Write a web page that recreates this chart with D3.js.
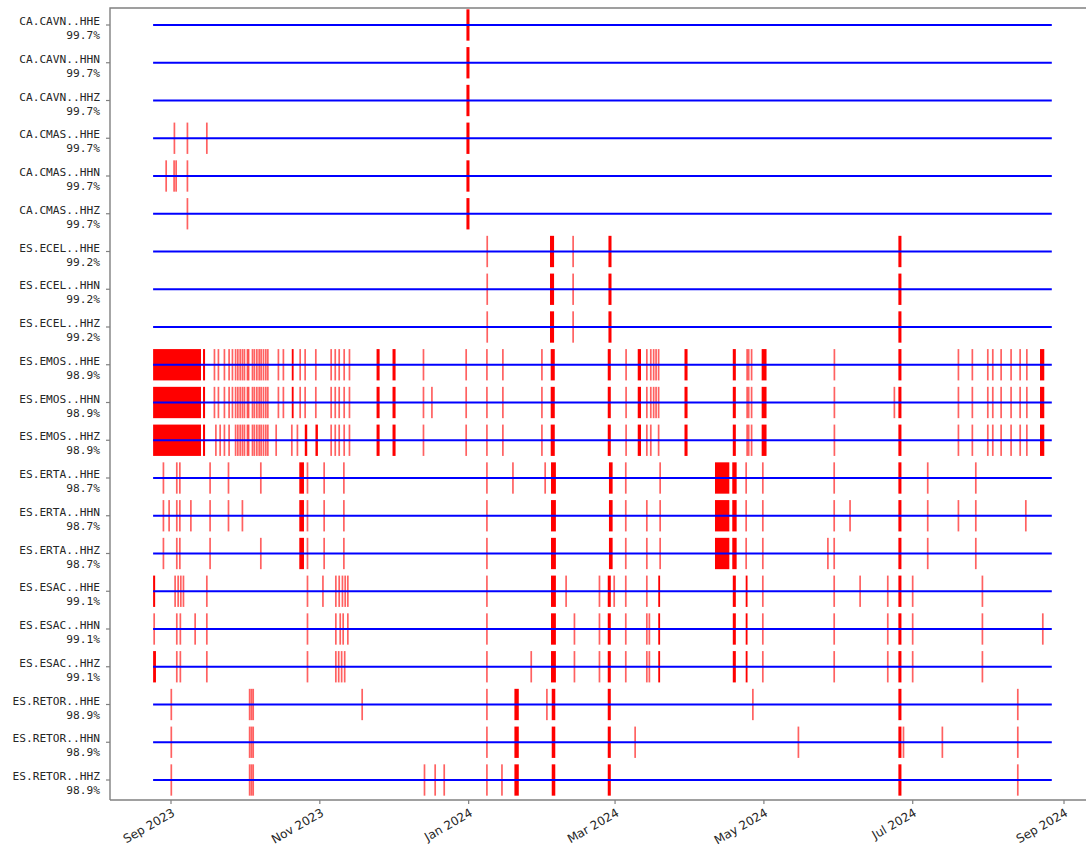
<!DOCTYPE html>
<html>
<head>
<meta charset="utf-8">
<script src="https://cdn.jsdelivr.net/npm/d3@7"></script>
<style>
  body { margin: 0; background: #fff; }
  svg { display: block; }
</style>
</head>
<body>
<svg id="chart" width="1086" height="846"></svg>
<script>
// ---- data -------------------------------------------------------------
const channels = [
  "CA.CAVN..HHE", "CA.CAVN..HHN", "CA.CAVN..HHZ",
  "CA.CMAS..HHE", "CA.CMAS..HHN", "CA.CMAS..HHZ",
  "ES.ECEL..HHE", "ES.ECEL..HHN", "ES.ECEL..HHZ",
  "ES.EMOS..HHE", "ES.EMOS..HHN", "ES.EMOS..HHZ",
  "ES.ERTA..HHE", "ES.ERTA..HHN", "ES.ERTA..HHZ",
  "ES.ESAC..HHE", "ES.ESAC..HHN", "ES.ESAC..HHZ",
  "ES.RETOR..HHE", "ES.RETOR..HHN", "ES.RETOR..HHZ"
];
const availability = [
  "99.7%", "99.7%", "99.7%",
  "99.7%", "99.7%", "99.7%",
  "99.2%", "99.2%", "99.2%",
  "98.9%", "98.9%", "98.9%",
  "98.7%", "98.7%", "98.7%",
  "99.1%", "99.1%", "99.1%",
  "98.9%", "98.9%", "98.9%"
];
const recordStart = "2023-08-24 16:00";
const recordEnd = "2024-08-27 00:00";
const tickDates = ["2023-09-01 00:00", "2023-11-01 00:00", "2024-01-01 00:00", "2024-03-01 00:00",
                   "2024-05-01 00:00", "2024-07-01 00:00", "2024-09-01 00:00"];
const tickLabels = ["Sep 2023", "Nov 2023", "Jan 2024", "Mar 2024", "May 2024", "Jul 2024", "Sep 2024"];

// gaps: [start, duration in hours]
const gapsCAVN = [["2023-12-31 02:00", 30]];

const gapsCMAS_HHE = [["2023-09-02 08:00", 3], ["2023-09-07 16:00", 3], ["2023-09-15 15:00", 3],
  ["2023-12-31 02:00", 30]];
const gapsCMAS_HHN = [["2023-08-29 23:00", 3], ["2023-09-02 05:00", 3], ["2023-09-03 01:00", 3],
  ["2023-09-07 16:00", 3], ["2023-12-31 02:00", 30]];
const gapsCMAS_HHZ = [["2023-09-07 16:00", 3], ["2023-12-31 02:00", 30]];

const gapsECEL = [["2024-01-08 13:00", 3], ["2024-02-03 08:00", 40], ["2024-02-12 18:00", 3],
  ["2024-02-27 07:00", 30], ["2024-06-25 03:00", 30]];

const gapsEMOS_HHE = [
  ["2023-08-24 16:00", 471], ["2023-09-14 03:00", 20],
  ["2023-09-18 18:00", 3], ["2023-09-20 09:00", 3], ["2023-09-22 20:00", 3], ["2023-09-24 18:00", 3],
  ["2023-09-26 03:00", 3], ["2023-09-27 10:00", 3], ["2023-09-28 08:00", 3], ["2023-09-29 07:00", 3],
  ["2023-09-30 05:00", 3], ["2023-10-01 01:00", 3], ["2023-10-02 00:00", 16], ["2023-10-02 18:00", 3],
  ["2023-10-04 08:00", 3], ["2023-10-05 03:00", 3], ["2023-10-06 03:00", 3], ["2023-10-07 02:00", 3],
  ["2023-10-07 21:00", 3], ["2023-10-08 20:00", 3], ["2023-10-09 19:00", 3], ["2023-10-10 15:00", 3],
  ["2023-10-14 23:00", 3], ["2023-10-17 00:00", 3], ["2023-10-20 12:00", 18], ["2023-10-23 21:00", 3],
  ["2023-10-25 22:00", 3], ["2023-10-30 07:00", 3],
  ["2023-11-05 14:00", 3], ["2023-11-07 06:00", 3], ["2023-11-08 21:00", 3], ["2023-11-10 22:00", 3],
  ["2023-11-13 02:00", 3], ["2023-11-24 06:00", 30], ["2023-11-30 19:00", 30],
  ["2023-12-13 10:00", 3], ["2023-12-30 22:00", 3],
  ["2024-01-08 10:00", 3], ["2024-01-14 23:00", 3], ["2024-01-30 23:00", 3], ["2024-02-03 15:00", 40],
  ["2024-02-27 00:00", 30], ["2024-03-05 11:00", 3], ["2024-03-10 07:00", 32], ["2024-03-13 23:00", 3],
  ["2024-03-15 14:00", 3], ["2024-03-16 18:00", 3], ["2024-03-17 18:00", 3], ["2024-03-18 19:00", 3],
  ["2024-03-29 11:00", 30], ["2024-04-18 06:00", 30], ["2024-04-23 21:00", 12], ["2024-04-24 17:00", 3],
  ["2024-04-25 17:00", 12], ["2024-04-30 02:00", 48], ["2024-05-29 20:00", 3], ["2024-06-25 03:00", 30],
  ["2024-07-19 16:00", 3], ["2024-07-25 09:00", 3], ["2024-07-31 17:00", 3], ["2024-08-02 18:00", 3],
  ["2024-08-06 04:00", 3], ["2024-08-10 06:00", 3], ["2024-08-13 23:00", 3], ["2024-08-16 17:00", 3],
  ["2024-08-22 04:00", 42]
];
const gapsEMOS_HHN = gapsEMOS_HHE.concat([["2023-12-16 21:00", 3], ["2024-06-23 10:00", 3]]);
const gapsEMOS_HHZ = [
  ["2023-08-24 16:00", 471], ["2023-09-14 03:00", 20],
  ["2023-09-19 08:00", 3], ["2023-09-21 02:00", 3], ["2023-09-22 20:00", 3], ["2023-09-24 18:00", 3],
  ["2023-09-27 10:00", 3], ["2023-09-28 08:00", 3], ["2023-09-29 07:00", 3], ["2023-09-30 05:00", 3],
  ["2023-10-01 01:00", 3], ["2023-10-02 00:00", 16], ["2023-10-02 18:00", 3],
  ["2023-10-04 08:00", 3], ["2023-10-05 03:00", 3], ["2023-10-06 03:00", 3], ["2023-10-07 02:00", 3],
  ["2023-10-07 21:00", 3], ["2023-10-08 20:00", 3], ["2023-10-09 19:00", 3], ["2023-10-10 15:00", 3],
  ["2023-10-14 01:00", 3], ["2023-10-20 11:00", 3], ["2023-10-22 18:00", 3], ["2023-10-25 20:00", 24],
  ["2023-10-30 05:00", 24],
  ["2023-11-05 14:00", 3], ["2023-11-07 06:00", 3], ["2023-11-08 21:00", 3], ["2023-11-10 22:00", 3],
  ["2023-11-13 02:00", 3], ["2023-11-24 06:00", 30], ["2023-11-30 19:00", 30],
  ["2023-12-13 10:00", 3], ["2023-12-30 22:00", 3],
  ["2024-01-08 10:00", 3], ["2024-01-14 23:00", 3], ["2024-01-30 23:00", 3], ["2024-02-03 15:00", 40],
  ["2024-02-27 00:00", 30], ["2024-03-05 11:00", 3], ["2024-03-10 07:00", 32], ["2024-03-13 23:00", 3],
  ["2024-03-15 14:00", 3], ["2024-03-18 19:00", 3],
  ["2024-03-29 11:00", 30], ["2024-04-18 06:00", 30], ["2024-04-23 21:00", 12], ["2024-04-24 17:00", 3],
  ["2024-04-25 17:00", 12], ["2024-04-30 02:00", 48], ["2024-05-29 20:00", 3], ["2024-06-25 03:00", 30],
  ["2024-07-19 16:00", 3], ["2024-07-25 09:00", 3], ["2024-07-31 17:00", 3], ["2024-08-02 18:00", 3],
  ["2024-08-06 04:00", 3], ["2024-08-10 06:00", 3], ["2024-08-13 20:00", 10], ["2024-08-16 17:00", 3],
  ["2024-08-22 04:00", 42]
];

const gapsERTA_HHE = [
  ["2023-08-28 20:00", 3], ["2023-09-03 04:00", 10], ["2023-09-04 10:00", 10], ["2023-09-16 23:00", 3],
  ["2023-09-24 12:00", 3], ["2023-10-07 18:00", 3], ["2023-10-23 14:00", 46], ["2023-10-26 21:00", 3],
  ["2023-11-02 17:00", 3], ["2023-11-10 19:00", 3],
  ["2024-01-08 10:00", 3], ["2024-01-19 02:00", 3], ["2024-02-01 07:00", 3], ["2024-02-03 18:00", 48],
  ["2024-02-27 12:00", 36], ["2024-03-05 08:00", 3], ["2024-03-19 10:00", 3], ["2024-04-10 23:00", 141],
  ["2024-04-18 01:00", 43], ["2024-04-23 16:00", 3], ["2024-04-30 12:00", 3], ["2024-05-29 18:00", 3],
  ["2024-06-25 03:00", 30], ["2024-07-07 02:00", 3], ["2024-07-26 19:00", 3]
];
const gapsERTA_HHN = [
  ["2023-08-28 20:00", 3], ["2023-08-31 04:00", 3], ["2023-09-03 04:00", 10], ["2023-09-04 10:00", 10],
  ["2023-09-09 02:00", 3], ["2023-09-16 23:00", 3], ["2023-09-24 12:00", 3], ["2023-09-30 05:00", 3],
  ["2023-10-23 14:00", 46], ["2023-10-26 21:00", 3], ["2023-11-02 17:00", 3], ["2023-11-10 19:00", 3],
  ["2024-01-08 10:00", 3], ["2024-02-03 18:00", 48], ["2024-02-27 12:00", 36], ["2024-03-05 08:00", 3],
  ["2024-03-13 23:00", 3], ["2024-03-19 10:00", 3], ["2024-04-10 23:00", 141], ["2024-04-18 01:00", 43],
  ["2024-04-23 16:00", 3], ["2024-04-30 12:00", 3], ["2024-05-29 18:00", 3], ["2024-06-05 06:00", 3],
  ["2024-06-25 03:00", 30], ["2024-07-07 02:00", 3], ["2024-07-19 16:00", 3], ["2024-07-26 19:00", 3],
  ["2024-08-16 07:00", 3]
];
const gapsERTA_HHZ = [
  ["2023-08-28 20:00", 3], ["2023-09-03 04:00", 10], ["2023-09-04 10:00", 10], ["2023-09-16 23:00", 3],
  ["2023-10-07 18:00", 3], ["2023-10-23 14:00", 46], ["2023-10-26 21:00", 3], ["2023-11-02 17:00", 3],
  ["2023-11-10 19:00", 3],
  ["2024-01-08 10:00", 3], ["2024-02-03 18:00", 48], ["2024-02-27 12:00", 36], ["2024-03-05 08:00", 3],
  ["2024-03-13 23:00", 3], ["2024-03-19 10:00", 3], ["2024-04-10 23:00", 141], ["2024-04-18 01:00", 43],
  ["2024-04-23 16:00", 3], ["2024-04-30 12:00", 3], ["2024-05-27 04:00", 3], ["2024-05-29 18:00", 3],
  ["2024-06-25 03:00", 30], ["2024-07-07 02:00", 3], ["2024-07-26 19:00", 3]
];

const gapsESAC_HHE = [
  ["2023-08-24 16:00", 20], ["2023-09-02 15:00", 3], ["2023-09-03 21:00", 3], ["2023-09-04 23:00", 3],
  ["2023-09-06 01:00", 3], ["2023-09-15 15:00", 3], ["2023-10-26 21:00", 3], ["2023-11-02 05:00", 3],
  ["2023-11-07 12:00", 3], ["2023-11-08 21:00", 3], ["2023-11-10 05:00", 3], ["2023-11-11 08:00", 3],
  ["2023-11-12 10:00", 3],
  ["2024-01-08 10:00", 3], ["2024-02-03 18:00", 48], ["2024-02-09 21:00", 3], ["2024-02-23 13:00", 3],
  ["2024-02-27 00:00", 30], ["2024-02-29 14:00", 3], ["2024-03-05 08:00", 3], ["2024-03-13 23:00", 3],
  ["2024-03-18 17:00", 18], ["2024-04-18 06:00", 30], ["2024-04-23 13:00", 18], ["2024-04-30 12:00", 3],
  ["2024-05-29 18:00", 3], ["2024-06-09 09:00", 3], ["2024-06-20 17:00", 3], ["2024-06-25 03:00", 30],
  ["2024-06-30 22:00", 3], ["2024-07-29 12:00", 3]
];
const gapsESAC_HHN = [
  ["2023-08-25 01:00", 3], ["2023-09-03 01:00", 16], ["2023-09-04 12:00", 16], ["2023-09-10 20:00", 3],
  ["2023-09-15 15:00", 3], ["2023-10-26 21:00", 3], ["2023-11-07 12:00", 3], ["2023-11-09 07:00", 3],
  ["2023-11-10 12:00", 3], ["2023-11-12 10:00", 3],
  ["2024-01-08 10:00", 3], ["2024-02-03 18:00", 48], ["2024-02-13 07:00", 3], ["2024-02-23 13:00", 3],
  ["2024-02-27 00:00", 30], ["2024-03-05 08:00", 3], ["2024-03-13 23:00", 3], ["2024-03-15 00:00", 3],
  ["2024-03-18 17:00", 18], ["2024-04-18 06:00", 30], ["2024-04-23 13:00", 18], ["2024-04-30 12:00", 3],
  ["2024-05-29 18:00", 3], ["2024-06-20 17:00", 3], ["2024-06-25 03:00", 30], ["2024-06-30 22:00", 3],
  ["2024-07-29 12:00", 3], ["2024-08-23 06:00", 3]
];
const gapsESAC_HHZ = [
  ["2023-08-24 16:00", 28], ["2023-09-03 01:00", 16], ["2023-09-04 12:00", 16], ["2023-09-15 15:00", 3],
  ["2023-10-26 21:00", 3], ["2023-11-07 12:00", 3], ["2023-11-08 16:00", 3], ["2023-11-09 21:00", 3],
  ["2023-11-11 03:00", 3],
  ["2024-01-08 10:00", 3], ["2024-01-26 14:00", 3], ["2024-02-03 18:00", 48], ["2024-02-13 07:00", 3],
  ["2024-02-23 13:00", 3], ["2024-02-27 00:00", 30], ["2024-03-05 08:00", 3], ["2024-03-13 23:00", 3],
  ["2024-03-15 00:00", 3], ["2024-03-18 17:00", 18], ["2024-04-18 06:00", 30], ["2024-04-23 13:00", 18],
  ["2024-04-30 12:00", 3], ["2024-05-29 18:00", 3], ["2024-06-20 17:00", 3], ["2024-06-25 03:00", 30],
  ["2024-06-30 22:00", 3], ["2024-07-29 12:00", 3]
];

const gapsRETOR_HHE = [
  ["2023-09-01 00:00", 6], ["2023-10-03 04:00", 3], ["2023-10-03 22:00", 3], ["2023-10-04 15:00", 3],
  ["2023-11-18 07:00", 3], ["2024-01-08 10:00", 3], ["2024-01-19 18:00", 43], ["2024-02-02 00:00", 3],
  ["2024-02-04 01:00", 35], ["2024-02-27 00:00", 30], ["2024-04-26 10:00", 3], ["2024-06-25 03:00", 30],
  ["2024-08-13 00:00", 3]
];
const gapsRETOR_HHN = [
  ["2023-09-01 00:00", 6], ["2023-10-03 04:00", 3], ["2023-10-03 22:00", 3], ["2023-10-04 15:00", 3],
  ["2024-01-08 10:00", 3], ["2024-01-19 18:00", 43], ["2024-02-04 01:00", 35], ["2024-02-27 00:00", 30],
  ["2024-03-09 04:00", 3], ["2024-05-15 02:00", 3], ["2024-06-25 03:00", 30], ["2024-06-27 00:00", 10],
  ["2024-07-13 02:00", 3], ["2024-08-13 00:00", 3]
];
const gapsRETOR_HHZ = [
  ["2023-09-01 00:00", 6], ["2023-10-03 04:00", 3], ["2023-10-03 22:00", 3], ["2023-10-04 15:00", 3],
  ["2023-12-13 20:00", 3], ["2023-12-18 05:00", 3], ["2023-12-21 22:00", 3], ["2024-01-08 10:00", 3],
  ["2024-01-14 14:00", 3], ["2024-01-19 18:00", 43], ["2024-02-04 01:00", 35], ["2024-02-27 00:00", 30],
  ["2024-06-25 03:00", 30], ["2024-08-13 00:00", 3]
];

const gapsByChannel = [
  gapsCAVN, gapsCAVN, gapsCAVN,
  gapsCMAS_HHE, gapsCMAS_HHN, gapsCMAS_HHZ,
  gapsECEL, gapsECEL, gapsECEL,
  gapsEMOS_HHE, gapsEMOS_HHN, gapsEMOS_HHZ,
  gapsERTA_HHE, gapsERTA_HHN, gapsERTA_HHZ,
  gapsESAC_HHE, gapsESAC_HHN, gapsESAC_HHZ,
  gapsRETOR_HHE, gapsRETOR_HHN, gapsRETOR_HHZ
];

// ---- layout -------------------------------------------------------------
const frame = { left: 110, right: 1096, top: 8, bottom: 800 };
const parse = d3.utcParse("%Y-%m-%d %H:%M");

const x = d3.scaleUtc()
  .domain([parse(tickDates[0]), parse(tickDates[tickDates.length - 1])])
  .range([171, 1064]);

const y = d3.scalePoint()
  .domain(channels)
  .range([25, 780]);

const barHeight = y.step() * 0.83;

const svg = d3.select("#chart");

// gap marks
const gapLayer = svg.append("g");
channels.forEach((ch, i) => {
  const rows = gapsByChannel[i].map(([s, h]) => {
    const t0 = parse(s);
    const t1 = new Date(t0.getTime() + h * 3600e3);
    return { x0: x(t0), x1: x(t1) };
  });
  gapLayer.selectAll(null)
    .data(rows)
    .enter()
    .append("rect")
    .attr("x", d => {
      const w = d.x1 - d.x0;
      return w < 1.7 ? (d.x0 + d.x1) / 2 - 0.85 : d.x0;
    })
    .attr("width", d => Math.max(1.7, d.x1 - d.x0))
    .attr("y", y(ch) - barHeight / 2)
    .attr("height", barHeight)
    .attr("fill", "#ff0000")
    .attr("fill-opacity", d => (d.x1 - d.x0) < 1.7 ? 0.62 : 1);
});

// record span lines
svg.append("g")
  .selectAll("line")
  .data(channels)
  .enter()
  .append("line")
  .attr("x1", x(parse(recordStart)))
  .attr("x2", x(parse(recordEnd)))
  .attr("y1", d => y(d))
  .attr("y2", d => y(d))
  .attr("stroke", "#0000ff")
  .attr("stroke-width", 2.2);

// frame
const spine = "#808080";
svg.append("path")
  .attr("d", `M${frame.left},${frame.bottom}V${frame.top}H${frame.right}`)
  .attr("fill", "none").attr("stroke", spine).attr("stroke-width", 1.4);
svg.append("line")
  .attr("x1", frame.left).attr("x2", frame.right)
  .attr("y1", frame.bottom).attr("y2", frame.bottom)
  .attr("stroke", spine).attr("stroke-width", 1.4);

// y axis: ticks and two-line labels
const yAxis = svg.append("g");
channels.forEach((ch, i) => {
  yAxis.append("line")
    .attr("x1", frame.left - 4).attr("x2", frame.left)
    .attr("y1", y(ch)).attr("y2", y(ch))
    .attr("stroke", spine).attr("stroke-width", 1.2);
  const t = yAxis.append("text")
    .attr("text-anchor", "end")
    .attr("font-family", "'DejaVu Sans Mono', monospace")
    .attr("font-size", "11.2px")
    .attr("fill", "#262626");
  t.append("tspan").attr("x", 100).attr("y", y(ch)).text(ch);
  t.append("tspan").attr("x", 100).attr("y", y(ch) + 14).text(availability[i]);
});

// x axis: date ticks with rotated labels
const xAxis = svg.append("g");
tickDates.forEach((d, i) => {
  const px = x(parse(d));
  xAxis.append("line")
    .attr("x1", px).attr("x2", px)
    .attr("y1", frame.bottom).attr("y2", frame.bottom + 4)
    .attr("stroke", spine).attr("stroke-width", 1.2);
  xAxis.append("text")
    .attr("transform", `translate(${px},${frame.bottom + 7}) rotate(-30)`)
    .attr("text-anchor", "end")
    .attr("dy", "0.78em")
    .attr("font-family", "'DejaVu Sans', sans-serif")
    .attr("font-size", "12px")
    .attr("fill", "#262626")
    .text(tickLabels[i]);
});
</script>
</body>
</html>
